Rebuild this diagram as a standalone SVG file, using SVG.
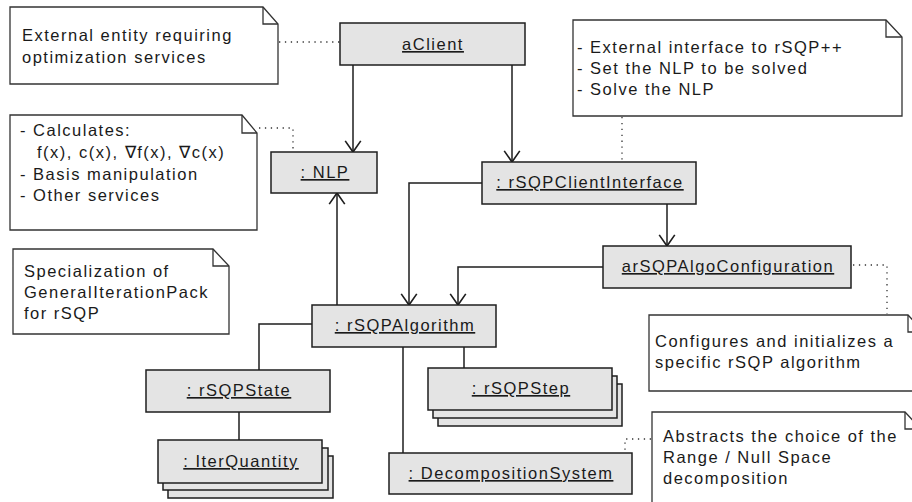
<svg xmlns="http://www.w3.org/2000/svg" width="912" height="502" viewBox="0 0 912 502">
<style>
.box{fill:#e4e4e4;stroke:#1e1e1e;stroke-width:1.5}
.note{fill:#fff;stroke:#333;stroke-width:1.3}
.fold{fill:none;stroke:#333;stroke-width:1.3}
.lbl{font-family:"Liberation Sans",Arial,sans-serif;font-size:16.5px;letter-spacing:1.5px;fill:#1a1a1a;text-anchor:middle;text-decoration:underline}
.nt{font-family:"Liberation Sans",Arial,sans-serif;font-size:16.5px;letter-spacing:1.5px;fill:#1a1a1a}
.con{fill:none;stroke:#1e1e1e;stroke-width:1.5}
.dot{fill:none;stroke:#333;stroke-width:1.3;stroke-dasharray:1.3 4.6}
</style>
<defs>
<marker id="arr" markerUnits="userSpaceOnUse" markerWidth="20" markerHeight="20" refX="0" refY="0" viewBox="-12 -9 14 18" orient="auto">
<path d="M-10,-7 L0,0 L-10,7" fill="none" stroke="#1e1e1e" stroke-width="1.5"/>
</marker>
</defs>
<rect width="912" height="502" fill="#fff"/>

<g id="connectors">
<path class="con" d="M353,65 V152" marker-end="url(#arr)"/>
<path class="con" d="M512,65 V162" marker-end="url(#arr)"/>
<path class="con" d="M337,305 V193" marker-end="url(#arr)"/>
<path class="con" d="M482,183 H409 V305" marker-end="url(#arr)"/>
<path class="con" d="M667,204 V246" marker-end="url(#arr)"/>
<path class="con" d="M603,267 H458 V305" marker-end="url(#arr)"/>
<path class="con" d="M312,324 H259 V370"/>
<path class="con" d="M464,347 V368"/>
<path class="con" d="M403,347 V453"/>
<path class="con" d="M239,412 V440"/>
<path class="dot" d="M279,42 H340"/>
<path class="dot" d="M259,128 H293 V150"/>
<path class="dot" d="M622,117 V161"/>
<path class="dot" d="M853,265 H887 V314"/>
<path class="dot" d="M651,439 H625 V452"/>
</g>

<g id="note-client">
<path class="note" d="M10,7 H263 L278,24 V84 H10 Z"/>
<path class="fold" d="M263,7 V24 H278"/>
<text class="nt" x="22" y="41">External entity requiring</text>
<text class="nt" x="22" y="63">optimization services</text>
</g>

<g id="note-nlp">
<path class="note" d="M10,115 H242 L257,133 V230 H10 Z"/>
<path class="fold" d="M242,115 V133 H257"/>
<text class="nt" x="20" y="136">- Calculates:</text>
<text class="nt" x="37" y="158">f(x), c(x), ∇f(x), ∇c(x)</text>
<text class="nt" x="20" y="180">- Basis manipulation</text>
<text class="nt" x="20" y="201">- Other services</text>
</g>

<g id="note-interface">
<path class="note" d="M573,20 H886 L902,37 V116 H573 Z"/>
<path class="fold" d="M886,20 V37 H902"/>
<text class="nt" x="577" y="53">- External interface to rSQP++</text>
<text class="nt" x="577" y="74">- Set the NLP to be solved</text>
<text class="nt" x="577" y="95">- Solve the NLP</text>
</g>

<g id="note-special">
<path class="note" d="M13,249 H213 L229,266 V334 H13 Z"/>
<path class="fold" d="M213,249 V266 H229"/>
<text class="nt" x="24" y="277">Specialization of</text>
<text class="nt" x="24" y="298">GeneralIterationPack</text>
<text class="nt" x="24" y="319">for rSQP</text>
</g>

<g id="note-config">
<path class="note" d="M649,315 H908 L924,332 V391 H649 Z"/>
<path class="fold" d="M908,315 V332 H924"/>
<text class="nt" x="655" y="347">Configures and initializes a</text>
<text class="nt" x="655" y="368">specific rSQP algorithm</text>
</g>

<g id="note-decomp">
<path class="note" d="M652,412 H905 L921,429 V520 H652 Z"/>
<path class="fold" d="M905,412 V429 H921"/>
<text class="nt" x="663" y="442">Abstracts the choice of the</text>
<text class="nt" x="663" y="463">Range / Null Space</text>
<text class="nt" x="663" y="484">decomposition</text>
</g>

<g id="aClient">
<rect class="box" x="340" y="23" width="185" height="42"/>
<text class="lbl" x="433" y="50">aClient</text>
</g>

<g id="NLP">
<rect class="box" x="271" y="152" width="106" height="41"/>
<text class="lbl" x="325" y="178">: NLP</text>
</g>

<g id="rSQPClientInterface">
<rect class="box" x="482" y="162" width="214" height="42"/>
<text class="lbl" x="590" y="188">: rSQPClientInterface</text>
</g>

<g id="arSQPAlgoConfiguration">
<rect class="box" x="603" y="246" width="248" height="42"/>
<text class="lbl" x="728" y="272">arSQPAlgoConfiguration</text>
</g>

<g id="rSQPAlgorithm">
<rect class="box" x="312" y="305" width="184" height="42"/>
<text class="lbl" x="405" y="331">: rSQPAlgorithm</text>
</g>

<g id="rSQPState">
<rect class="box" x="146" y="370" width="184" height="42"/>
<text class="lbl" x="239" y="396">: rSQPState</text>
</g>

<g id="IterQuantity">
<rect class="box" x="168" y="456" width="165" height="42"/>
<rect class="box" x="163" y="448" width="165" height="42"/>
<rect class="box" x="158" y="440" width="164" height="43"/>
<text class="lbl" x="241" y="467">: IterQuantity</text>
</g>

<g id="rSQPStep">
<rect class="box" x="438" y="384" width="184" height="42"/>
<rect class="box" x="433" y="376" width="184" height="42"/>
<rect class="box" x="428" y="368" width="184" height="42"/>
<text class="lbl" x="521" y="394">: rSQPStep</text>
</g>

<g id="DecompositionSystem">
<rect class="box" x="389" y="453" width="243" height="41"/>
<text class="lbl" x="511" y="479">: DecompositionSystem</text>
</g>
</svg>
